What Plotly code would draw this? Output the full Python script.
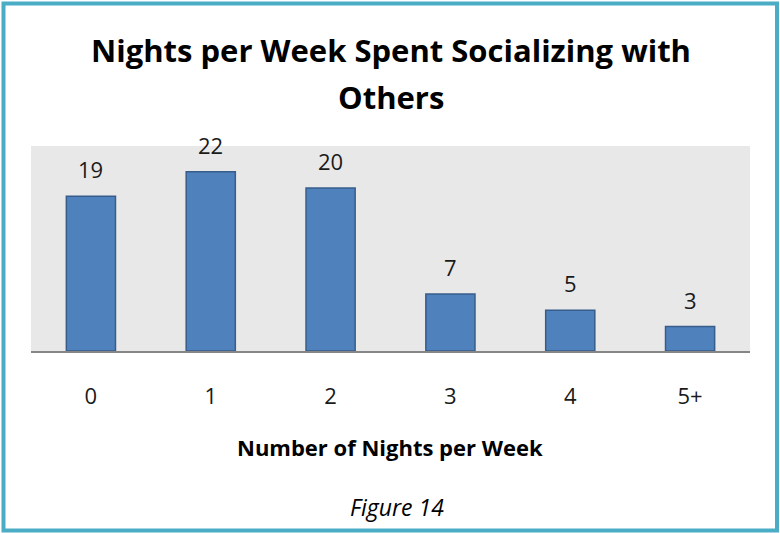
import plotly.graph_objects as go

categories = ["0", "1", "2", "3", "4", "5+"]
values = [19, 22, 20, 7, 5, 3]
title_lines = ["Nights per Week Spent Socializing with", "Others"]
x_title = "Number of Nights per Week"
caption = "Figure 14"

W, H = 780, 533
L, R, T, B = 31, 750, 146, 351  # plot area pixel bounds
pw, ph = R - L, B - T


def px_x(p):
    return (p - L) / pw


def px_y(p):
    return (B - p) / ph


FONT = "Open Sans"

fig = go.Figure(
    go.Bar(
        x=categories,
        y=values,
        width=0.41,
        marker=dict(color="#4F81BD", line=dict(color="#385D8A", width=1.5)),
        hoverinfo="skip",
    )
)

annotations = []
for c, v in zip(categories, values):
    annotations.append(dict(x=c, y=v, xref="x", yref="y", text=str(v), showarrow=False,
                            yanchor="bottom", yshift=10,
                            font=dict(family=FONT, size=22, color="#1a1a1a")))

annotations.append(dict(x=px_x(391), y=px_y(50), xref="paper", yref="paper", text="<b>%s</b>" % title_lines[0],
                        showarrow=False, xanchor="center", yanchor="middle",
                        font=dict(family=FONT, size=31, color="#000000")))
annotations.append(dict(x=px_x(391), y=px_y(97), xref="paper", yref="paper", text="<b>%s</b>" % title_lines[1],
                        showarrow=False, xanchor="center", yanchor="middle",
                        font=dict(family=FONT, size=31, color="#000000")))
annotations.append(dict(x=px_x(390), y=px_y(447), xref="paper", yref="paper", text="<b>%s</b>" % x_title,
                        showarrow=False, xanchor="center", yanchor="middle",
                        font=dict(family=FONT, size=22, color="#000000")))
annotations.append(dict(x=px_x(397), y=px_y(507), xref="paper", yref="paper", text="<i>%s</i>" % caption,
                        showarrow=False, xanchor="center", yanchor="middle",
                        font=dict(family=FONT, size=23, color="#000000")))

shapes = [dict(type="rect", xref="paper", yref="paper",
               x0=px_x(3.5), x1=px_x(777), y0=px_y(3.5), y1=px_y(530.5),
               line=dict(color="#4BACC6", width=4), fillcolor="rgba(0,0,0,0)", layer="below")]

fig.update_layout(
    width=W, height=H,
    margin=dict(l=L, r=W - R, t=T, b=H - B, pad=0),
    paper_bgcolor="#FFFFFF",
    plot_bgcolor="#E8E8E8",
    showlegend=False,
    annotations=annotations,
    shapes=shapes,
    xaxis=dict(showline=True, linecolor="#868686", linewidth=2, ticks="", showgrid=False,
               tickfont=dict(family=FONT, size=22, color="#1a1a1a"), ticklabelstandoff=25,
               fixedrange=True),
    yaxis=dict(range=[0, 25.15], visible=False, showgrid=False, zeroline=False, fixedrange=True),
)

fig.write_html("out.html", config={"displayModeBar": False},
               post_script="document.body.style.margin='0';document.body.style.padding='0';")
